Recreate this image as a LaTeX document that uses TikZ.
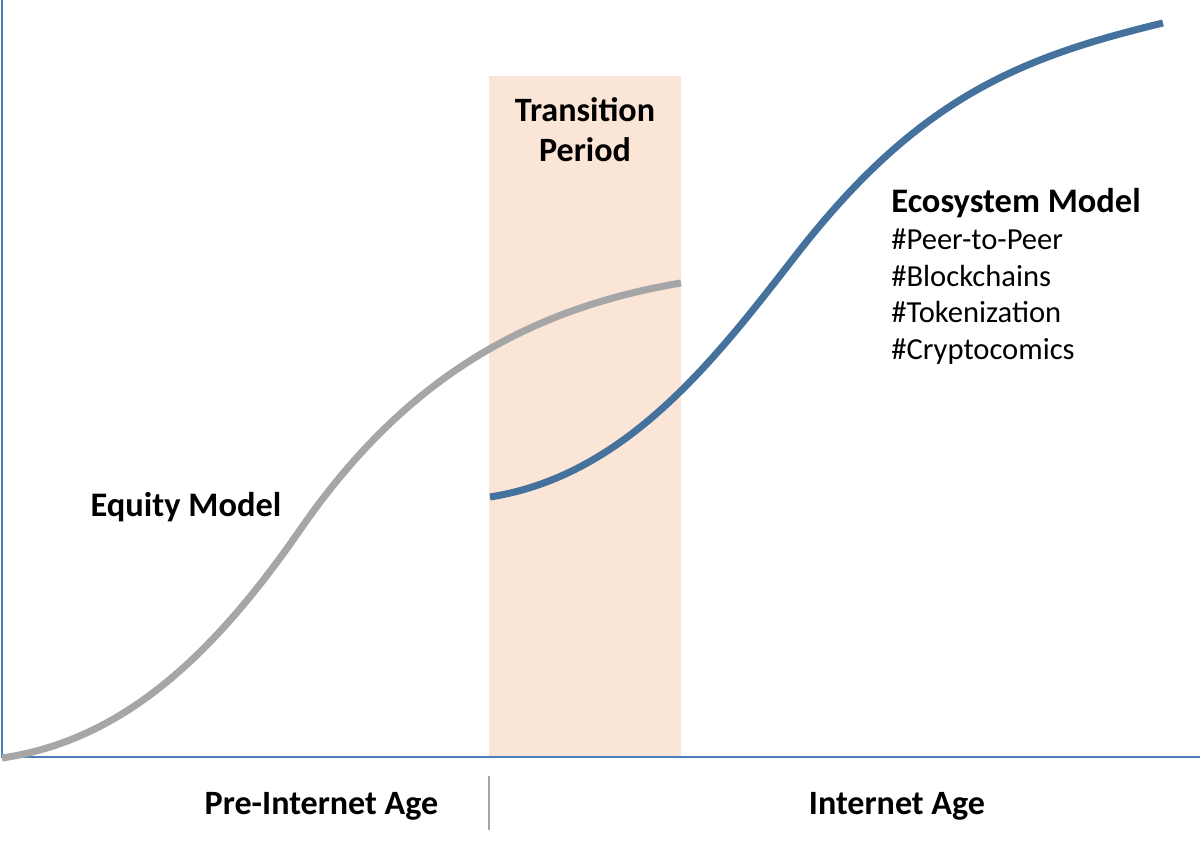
\documentclass[tikz,border=0pt]{standalone}
\usepackage{fontspec}
\setmainfont{Carlito}
\definecolor{axisblue}{HTML}{4A7EBB}
\definecolor{curveblue}{HTML}{44729D}
\definecolor{curvegray}{HTML}{A6A6A6}
\definecolor{transfill}{HTML}{FBE5D6}
\tikzset{
	bigtitle/.style={font=\bfseries\fontsize{19.4}{22.8}\selectfont, inner sep=0pt},
	modeltitle/.style={font=\bfseries\fontsize{19.6}{22}\selectfont, inner sep=0pt},
	hashtag/.style={font=\fontsize{17.4}{21}\selectfont, inner sep=0pt, anchor=base west}
}
\begin{document}
\begin{tikzpicture}
		\useasboundingbox (0,0) rectangle (24,16.9);
		
		% Uebergangsphase
		\fill[transfill] (9.78,1.76) rectangle (13.62,15.38);
		\node[bigtitle, anchor=base] (trans1) at (11.7,14.46) {Transition};
		\node[bigtitle, anchor=base] (trans2) at (11.7,13.66) {Period};
		
		% Achsen
		\draw[axisblue, line width=1.2pt] (0.04,16.9) -- (0.04,1.76) -- (24,1.76);
		
		% Equity Model (grau)
		\draw[curvegray, line width=4pt] (0.04,1.74) .. controls (2.5,2.1) and (4.3,3.85) .. (6.0,6.3)
			.. controls (8.0,9.2) and (10.4,10.7) .. (13.62,11.24);
		\node[modeltitle, anchor=base] (equity) at (3.72,6.56) {Equity Model};
		
		% Ecosystem Model (blau)
		\draw[curveblue, line width=4pt] (9.8,6.96) .. controls (12.6,7.4) and (14.4,9.85) .. (16.0,11.9)
			.. controls (18.4,14.95) and (20.4,15.75) .. (23.26,16.44);
		\node[modeltitle, anchor=base west] (eco) at (17.82,12.64) {Ecosystem Model};
		\node[hashtag] (p2p) at (17.82,11.9) {\#Peer-to-Peer};
		\node[hashtag] (chain) at (17.82,11.16) {\#Blockchains};
		\node[hashtag] (token) at (17.82,10.44) {\#Tokenization};
		\node[hashtag] (crypto) at (17.82,9.7) {\#Cryptocomics};
		
		% Zeitalter
		\draw[curvegray, line width=1.6pt] (9.78,1.38) -- (9.78,0.3);
		\node[bigtitle, anchor=base] (pre) at (6.43,0.6) {Pre-Internet Age};
		\node[bigtitle, anchor=base] (inet) at (17.94,0.6) {Internet Age};
		
	\end{tikzpicture}
\end{document}
